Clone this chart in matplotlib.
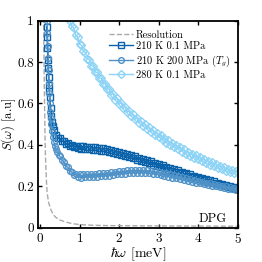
import numpy as np
import matplotlib
matplotlib.use("Agg")
import matplotlib.pyplot as plt

plt.rcParams['font.family'] = 'serif'
plt.rcParams['font.serif'] = ['cmr10']
plt.rcParams['mathtext.fontset'] = 'cm'
plt.rcParams['axes.formatter.use_mathtext'] = True

# ---------------- data ----------------
# Resolution
res_E = [0.09, 0.10, 0.11, 0.12, 0.13, 0.14, 0.16, 0.18, 0.22, 0.28, 0.34, 0.40,
         0.50, 0.66, 0.80, 1.00, 1.30, 1.70, 2.50, 3.50, 5.00]
res_S = [1.05, 0.85, 0.68, 0.55, 0.42, 0.34, 0.24, 0.17, 0.12, 0.085, 0.062, 0.05,
         0.037, 0.027, 0.02, 0.015, 0.012, 0.010, 0.009, 0.008, 0.007]

E_high = np.round(np.arange(0.50, 5.001, 0.05), 2)

# 210 K 0.1 MPa
dark_E_low = [0.17, 0.18, 0.19, 0.20, 0.21, 0.22, 0.23, 0.24, 0.25, 0.27, 0.29, 0.31,
              0.33, 0.36, 0.40, 0.45]
dark_S_low = [0.97, 0.92, 0.87, 0.81, 0.77, 0.73, 0.69, 0.66, 0.63, 0.58, 0.54, 0.51,
              0.49, 0.47, 0.45, 0.435]
dark_S_high = [0.432, 0.418, 0.419, 0.405, 0.408, 0.394, 0.401, 0.388, 0.397, 0.384,
               0.395, 0.381, 0.393, 0.38, 0.392, 0.378, 0.39, 0.376, 0.388, 0.374,
               0.386, 0.372, 0.383, 0.369, 0.379, 0.366, 0.376, 0.361, 0.37, 0.357,
               0.366, 0.351, 0.361, 0.346, 0.355, 0.341, 0.35, 0.335, 0.344, 0.329,
               0.338, 0.323, 0.332, 0.317, 0.326, 0.311, 0.32, 0.305, 0.314, 0.299,
               0.308, 0.293, 0.302, 0.287, 0.295, 0.281, 0.289, 0.275, 0.283, 0.269,
               0.277, 0.263, 0.27, 0.257, 0.264, 0.251, 0.258, 0.245, 0.252, 0.239,
               0.246, 0.234, 0.24, 0.228, 0.235, 0.222, 0.229, 0.217, 0.224, 0.212,
               0.218, 0.207, 0.213, 0.202, 0.208, 0.197, 0.203, 0.192, 0.198, 0.187,
               0.19]

# 210 K 200 MPa (Tg)
med_E_low = [0.18, 0.19, 0.20, 0.21, 0.22, 0.23, 0.24, 0.25, 0.26, 0.27, 0.28, 0.30,
             0.32, 0.35, 0.38, 0.41, 0.44, 0.47]
med_S_low = [1.0, 0.94, 0.88, 0.82, 0.76, 0.70, 0.65, 0.60, 0.56, 0.53, 0.50, 0.465,
             0.44, 0.415, 0.395, 0.378, 0.365, 0.352]
med_S_high = [0.346, 0.327, 0.319, 0.299, 0.292, 0.273, 0.27, 0.254, 0.258, 0.243,
              0.257, 0.242, 0.258, 0.243, 0.259, 0.244, 0.26, 0.245, 0.261, 0.246,
              0.262, 0.248, 0.264, 0.25, 0.266, 0.252, 0.268, 0.254, 0.271, 0.257,
              0.273, 0.259, 0.275, 0.261, 0.277, 0.263, 0.279, 0.264, 0.28, 0.265,
              0.28, 0.265, 0.279, 0.264, 0.278, 0.262, 0.276, 0.26, 0.273, 0.257,
              0.27, 0.254, 0.266, 0.25, 0.262, 0.246, 0.258, 0.242, 0.253, 0.238,
              0.249, 0.234, 0.244, 0.23, 0.24, 0.226, 0.235, 0.222, 0.231, 0.218,
              0.227, 0.214, 0.222, 0.21, 0.218, 0.206, 0.214, 0.202, 0.21, 0.199,
              0.206, 0.195, 0.202, 0.192, 0.199, 0.189, 0.195, 0.186, 0.192, 0.183,
              0.187]

# 280 K 0.1 MPa
light_E = np.round(np.arange(0.75, 5.001, 0.05), 2)
light_S = [1.0, 0.975, 0.965, 0.93, 0.922,
           0.888, 0.882, 0.852, 0.846, 0.816, 0.812, 0.783, 0.781, 0.752, 0.75,
           0.722, 0.722, 0.694, 0.696, 0.668, 0.671, 0.642, 0.647, 0.619, 0.625,
           0.597, 0.604, 0.577, 0.584, 0.558, 0.565, 0.54, 0.547, 0.523, 0.531,
           0.507, 0.515, 0.491, 0.5, 0.477, 0.486, 0.463, 0.472, 0.449, 0.459,
           0.436, 0.446, 0.423, 0.434, 0.411, 0.422, 0.4, 0.41, 0.389, 0.399,
           0.378, 0.388, 0.368, 0.378, 0.358, 0.368, 0.348, 0.358, 0.339, 0.349,
           0.33, 0.34, 0.322, 0.331, 0.313, 0.323, 0.305, 0.315, 0.298, 0.307,
           0.29, 0.3, 0.283, 0.292, 0.276, 0.285, 0.27, 0.278, 0.263, 0.272,
           0.262]

x_ticks = [0, 1, 2, 3, 4, 5]
y_ticks = [0, 0.2, 0.4, 0.6, 0.8, 1.0]
y_ticklabels = ['0', '0.2', '0.4', '0.6', '0.8', '1']

c_dark = '#0a62ab'
c_med = '#4f92c8'
c_light = '#8dd3f5'

fig = plt.figure(figsize=(2.62, 2.62), dpi=100)
ax = fig.add_axes([0.145, 0.131, 0.762, 0.790])

ax.plot(res_E, res_S, '--', color='#aaaaaa', lw=1.0, label='Resolution')
ax.plot(list(dark_E_low) + list(E_high), dark_S_low + dark_S_high, '-s', color=c_dark,
        mfc='none', ms=3.8, mew=1.0, lw=1.0, label='210 K 0.1 MPa')
ax.plot(list(med_E_low) + list(E_high), med_S_low + med_S_high, '-o', color=c_med,
        mfc='none', ms=4.1, mew=1.0, lw=1.0, label='210 K 200 MPa ($T_g$)')
ax.plot(light_E, light_S, '-D', color=c_light, mfc='none', ms=3.6, mew=1.0, lw=1.0,
        label='280 K 0.1 MPa')

ax.set_xlim(-0.05, 5)
ax.set_ylim(0, 1)
ax.set_xticks(x_ticks)
ax.set_yticks(y_ticks)
ax.set_yticklabels(y_ticklabels)
ax.tick_params(direction='in', top=True, right=True, length=3, width=1.0,
               labelsize=9.5, pad=3)
for s in ax.spines.values():
    s.set_linewidth(1.3)

ax.set_xlabel(r'$\hbar\omega$ [meV]', fontsize=10, labelpad=0)
ax.set_ylabel(r'$S(\omega)$ [a.u]', fontsize=9, labelpad=0)
ax.yaxis.set_label_coords(-0.1, 0.5)

ax.legend(loc='upper right', frameon=False, fontsize=7.5, handlelength=2.3,
          handletextpad=0.3, borderaxespad=0.3, labelspacing=0.2,
          bbox_to_anchor=(1.0, 0.99))
ax.text(4.72, 0.012, 'DPG', fontsize=9, ha='right', va='bottom')

fig.savefig('out.png', dpi=100)
